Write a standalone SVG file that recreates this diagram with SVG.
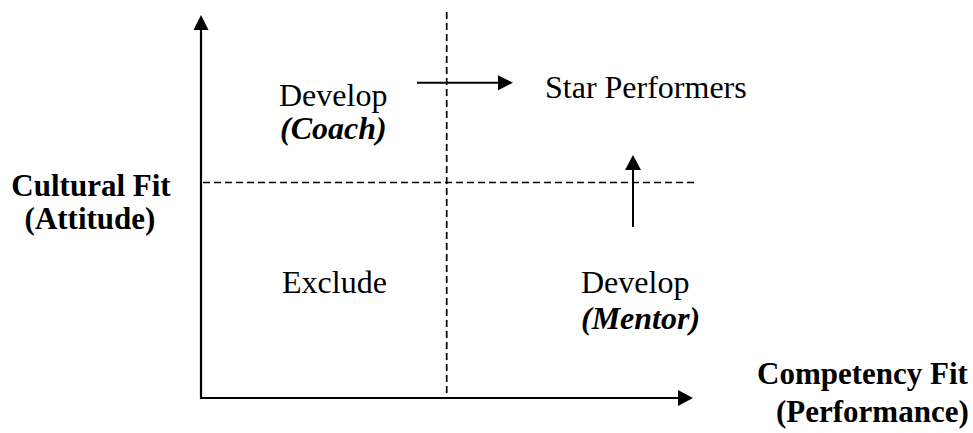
<svg xmlns="http://www.w3.org/2000/svg" width="973" height="433" viewBox="0 0 973 433">
<style>
.t{font-family:"Liberation Serif","Times New Roman",serif;font-size:32px;fill:#000}
.b{font-weight:bold;font-size:31px}
.bi{font-weight:bold;font-style:italic}
.axis{stroke:#000;stroke-width:2.2;fill:none}
.arr{stroke:#000;stroke-width:2;fill:none}
.dash{stroke:#000;stroke-width:1.7;stroke-dasharray:7 4;fill:none}
.head{fill:#000;stroke:none}
</style>
<rect width="973" height="433" fill="#fff"/>
<g id="connectors">
<line class="dash" x1="446.7" y1="12" x2="446.7" y2="398"/>
<line class="dash" x1="203" y1="182.5" x2="698" y2="182.5"/>
<polyline class="axis" points="201,30 201,398 679,398"/>
<polygon class="head" points="201,15 193.5,30 208.5,30"/>
<polygon class="head" points="693,398 678,390 678,406"/>
<line class="arr" x1="417" y1="82.7" x2="499" y2="82.7"/>
<polygon class="head" points="513,82.7 498,75.2 498,90.2"/>
<line class="arr" x1="633" y1="227" x2="633" y2="169"/>
<polygon class="head" points="633,155 625,170 641,170"/>
</g>
<g id="y-axis-label">
<text class="t b" x="91" y="196" text-anchor="middle">Cultural Fit</text>
<text class="t b" x="90" y="229" text-anchor="middle">(Attitude)</text>
</g>
<g id="x-axis-label">
<text class="t b" x="757" y="384">Competency Fit</text>
<text class="t b" x="776" y="422">(Performance)</text>
</g>
<g id="develop-coach">
<text class="t" x="279" y="106">Develop</text>
<text class="t bi" x="280" y="139">(Coach)</text>
</g>
<g id="star-performers">
<text class="t" x="545" y="98">Star Performers</text>
</g>
<g id="exclude">
<text class="t" x="282" y="293">Exclude</text>
</g>
<g id="develop-mentor">
<text class="t" x="581" y="293">Develop</text>
<text class="t bi" x="581" y="329">(Mentor)</text>
</g>
</svg>
